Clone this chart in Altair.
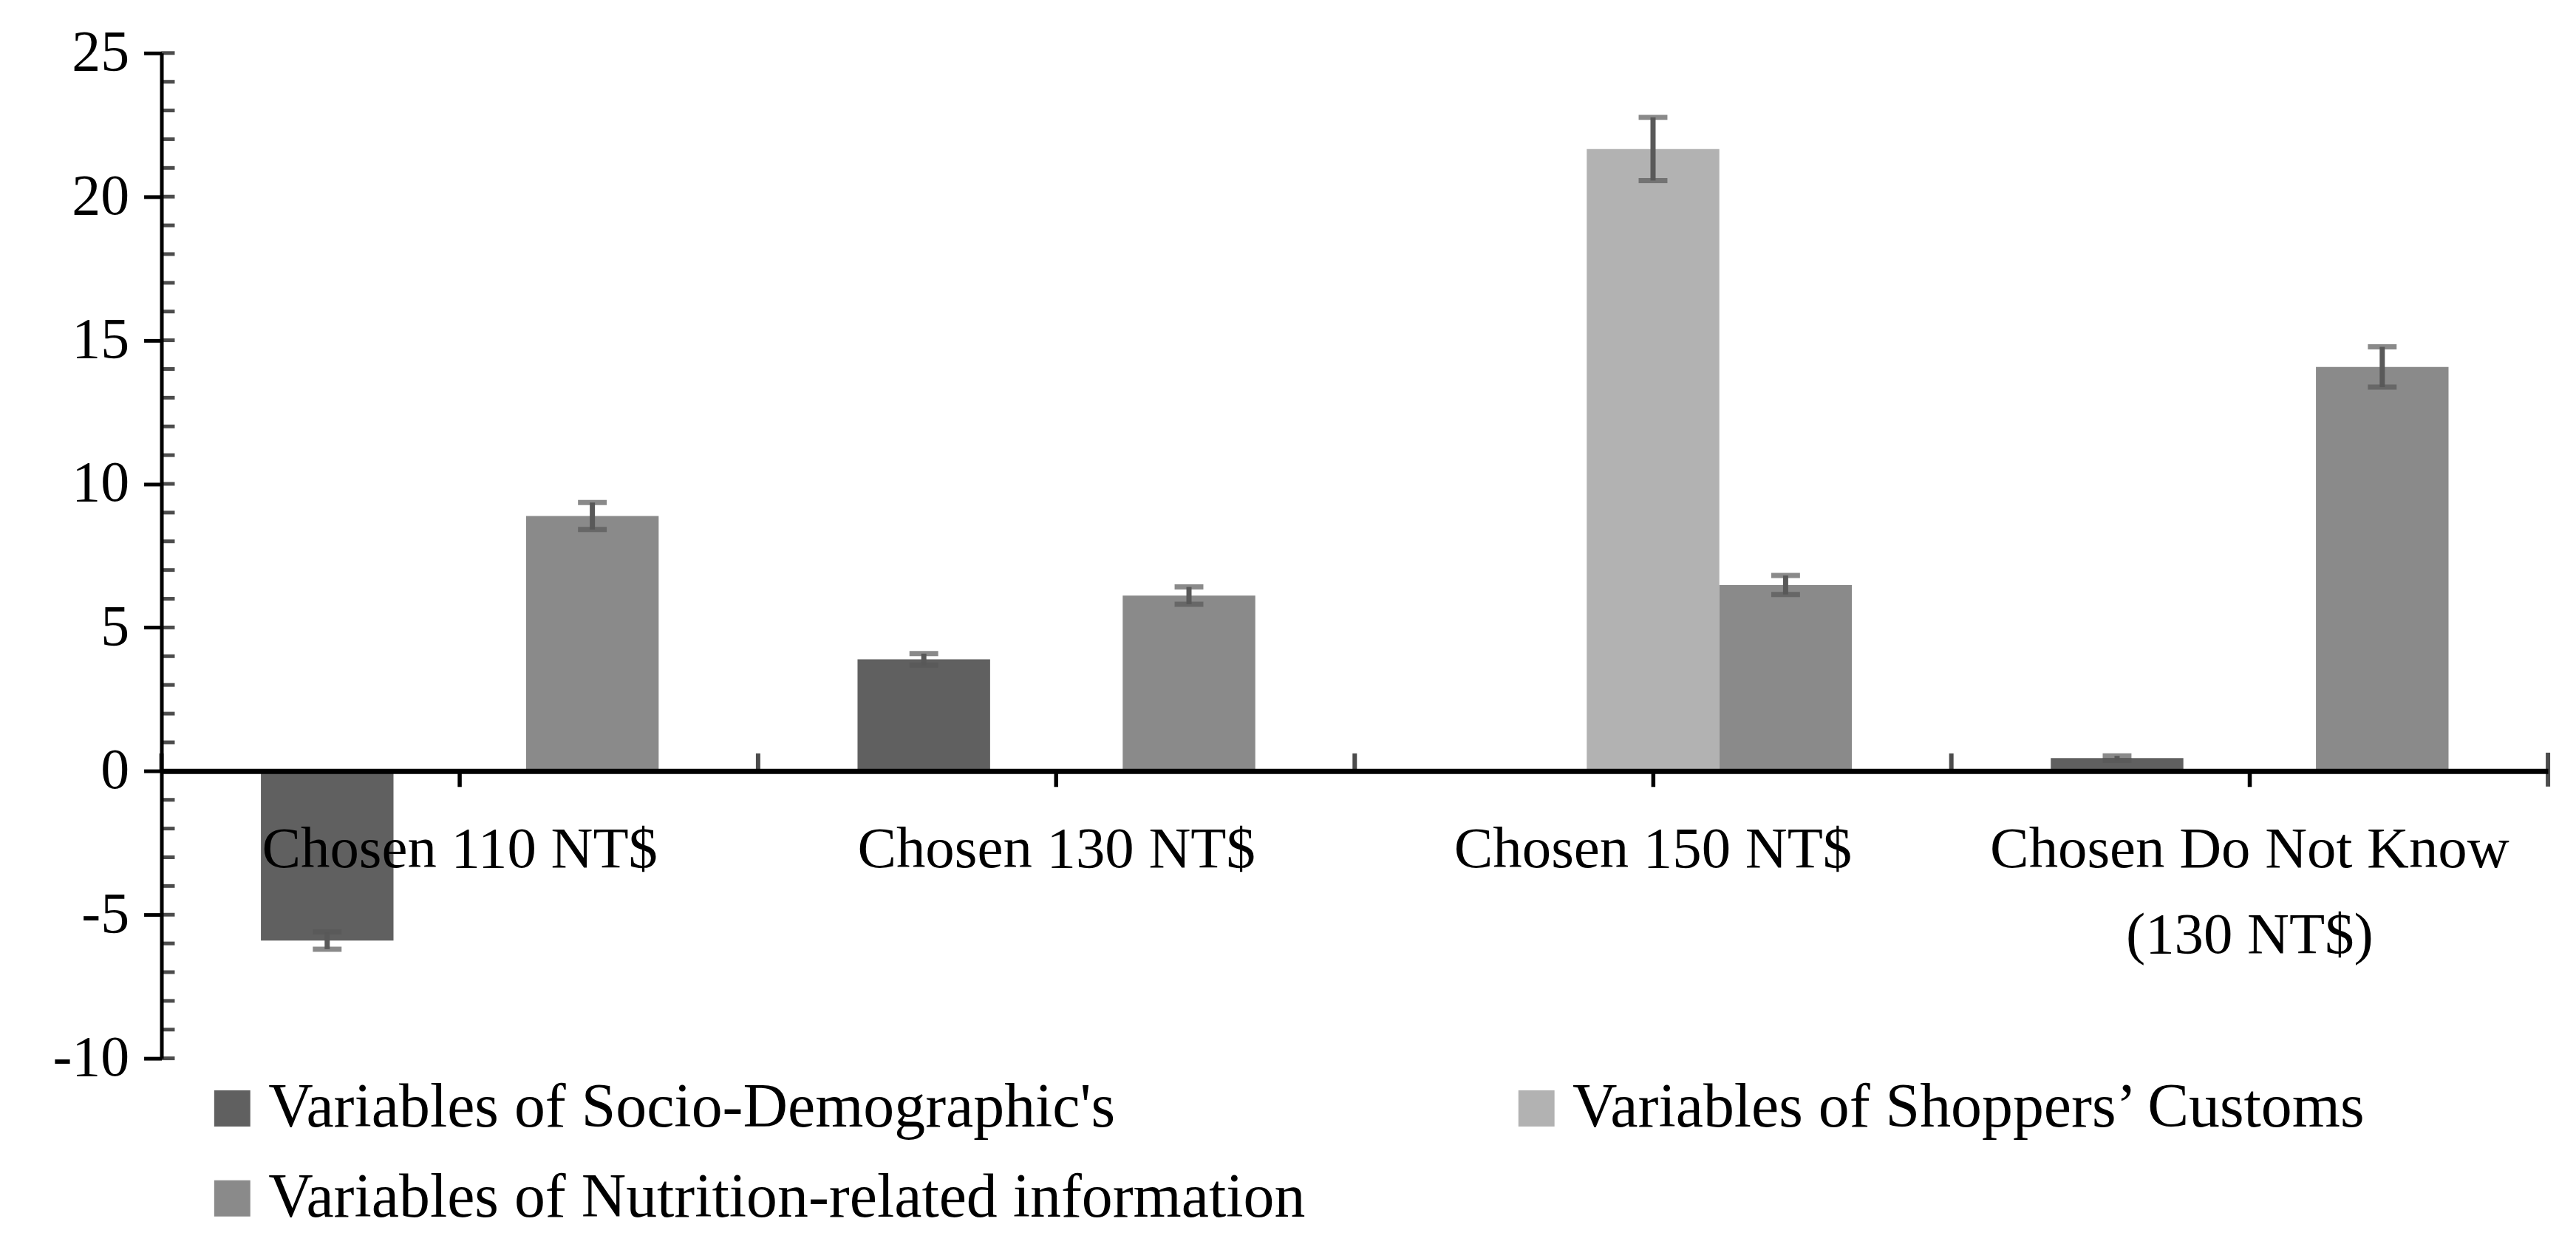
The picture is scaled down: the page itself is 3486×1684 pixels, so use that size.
import altair as alt
import pandas as pd

# ---------------- data ----------------
categories = ["Chosen 110 NT$", "Chosen 130 NT$", "Chosen 150 NT$", "Chosen Do Not Know\n(130 NT$)"]
series = [
    "Variables of Socio-Demographic's",
    "Variables of Shoppers\u2019 Customs",
    "Variables of Nutrition-related information",
]
socio_values = [-5.9, 3.89, None, 0.45]
socio_errors = [0.3, 0.2, None, 0.08]
customs_values = [None, None, 21.66, None]
customs_errors = [None, None, 1.1, None]
nutrition_values = [8.88, 6.11, 6.48, 14.07]
nutrition_errors = [0.47, 0.3, 0.33, 0.7]
series_colors = ["#606060", "#b2b2b2", "#8a8a8a"]
y_label_ticks = [-10, -5, 0, 5, 10, 15, 20, 25]
y_inner_ticks = list(range(-10, 26))

# ---------------- table ----------------
rows = []
for s, vals, errs in zip(series, [socio_values, customs_values, nutrition_values],
                         [socio_errors, customs_errors, nutrition_errors]):
    for c, v, e in zip(categories, vals, errs):
        if v is None:
            continue
        rows.append({"cat": c, "series": s, "value": v, "lo": v - e, "hi": v + e})
df = pd.DataFrame(rows)
ticks_df = pd.DataFrame({"t": y_inner_ticks})
cats_df = pd.DataFrame({"cat": categories})
last_df = pd.DataFrame({"cat": categories[-1:]})

FONT = "Liberation Serif"
W, H = 3237, 1364
YMIN, YMAX = -10, 25
zero_offset = -(H * (0 - YMIN) / (YMAX - YMIN))
ERR = "#595959"

x_scale = alt.Scale(domain=categories, paddingInner=0, paddingOuter=0)
y_scale = alt.Scale(domain=[YMIN, YMAX], nice=False, zero=False)
xo_scale = alt.Scale(domain=series, paddingInner=0, paddingOuter=0.75)

x_axis = alt.Axis(
    title=None, orient="bottom", offset=zero_offset, zindex=1,
    domainColor="black", domainWidth=7, tickColor="black", tickWidth=5.5, tickSize=21,
    labelFont=FONT, labelFontSize=79, labelColor="black", labelPadding=47,
    labelLineHeight=116, labelLimit=3000, labelAngle=0, labelBaseline="top",
    labelExpr="split(datum.label, '\\n')",
)
y_axis = alt.Axis(
    title=None, values=y_label_ticks, grid=False,
    domainColor="black", domainWidth=5, tickColor="black", tickWidth=5, tickSize=24,
    labelFont=FONT, labelFontSize=78, labelColor="black", labelPadding=20,
    labelExpr="datum.value + ''",
)

bars = alt.Chart(df).mark_bar().encode(
    x=alt.X("cat:N", scale=x_scale, axis=x_axis, sort=categories),
    xOffset=alt.XOffset("series:N", scale=xo_scale, sort=series),
    y=alt.Y("value:Q", scale=y_scale, axis=y_axis),
    color=alt.Color(
        "series:N", sort=series,
        scale=alt.Scale(domain=series, range=series_colors),
        legend=alt.Legend(
            title=None, orient="none", legendX=54, legendY=1390,
            direction="horizontal", columns=2,
            symbolType="square", symbolSize=2400, symbolStrokeWidth=0, symbolOpacity=1,
            labelFont=FONT, labelFontSize=84, labelColor="black", labelLimit=3000,
            labelOffset=7, rowPadding=38, columnPadding=271,
        ),
    ),
)

enc_common = dict(
    x=alt.X("cat:N", scale=x_scale, sort=categories),
    xOffset=alt.XOffset("series:N", scale=xo_scale, sort=series),
)
err_rule = alt.Chart(df).mark_rule(color=ERR, strokeWidth=7).encode(
    y=alt.Y("lo:Q", scale=y_scale), y2="hi:Q", **enc_common
)
cap_lo = alt.Chart(df).mark_tick(color=ERR, orient="horizontal", size=39, thickness=7).encode(
    y=alt.Y("lo:Q", scale=y_scale), **enc_common
)
cap_hi = alt.Chart(df).mark_tick(color=ERR, orient="horizontal", size=39, thickness=7).encode(
    y=alt.Y("hi:Q", scale=y_scale), **enc_common
)

inner_ticks = alt.Chart(ticks_df).mark_tick(color="black", orient="horizontal", size=18, thickness=5).encode(
    x=alt.value(9),
    y=alt.Y("t:Q", scale=y_scale),
)

boundary_ticks = alt.Chart(cats_df).mark_tick(color="black", orient="vertical", size=24, thickness=6, yOffset=-12).encode(
    x=alt.X("cat:N", scale=x_scale, sort=categories, bandPosition=0),
    y=alt.Y(datum=0, scale=y_scale),
)
end_tick = alt.Chart(last_df).mark_tick(color="black", orient="vertical", size=46, thickness=6, yOffset=-2).encode(
    x=alt.X("cat:N", scale=x_scale, sort=categories, bandPosition=1),
    y=alt.Y(datum=0, scale=y_scale),
)

chart = alt.layer(bars, err_rule, cap_lo, cap_hi, inner_ticks, boundary_ticks, end_tick).properties(
    width=W, height=H,
    autosize=alt.AutoSizeParams(type="none"),
    padding={"left": 211, "top": 62, "right": 30, "bottom": 250},
    background="white",
).configure_view(stroke=None)

chart.save("out.html", embed_options={"renderer": "svg", "actions": False})
